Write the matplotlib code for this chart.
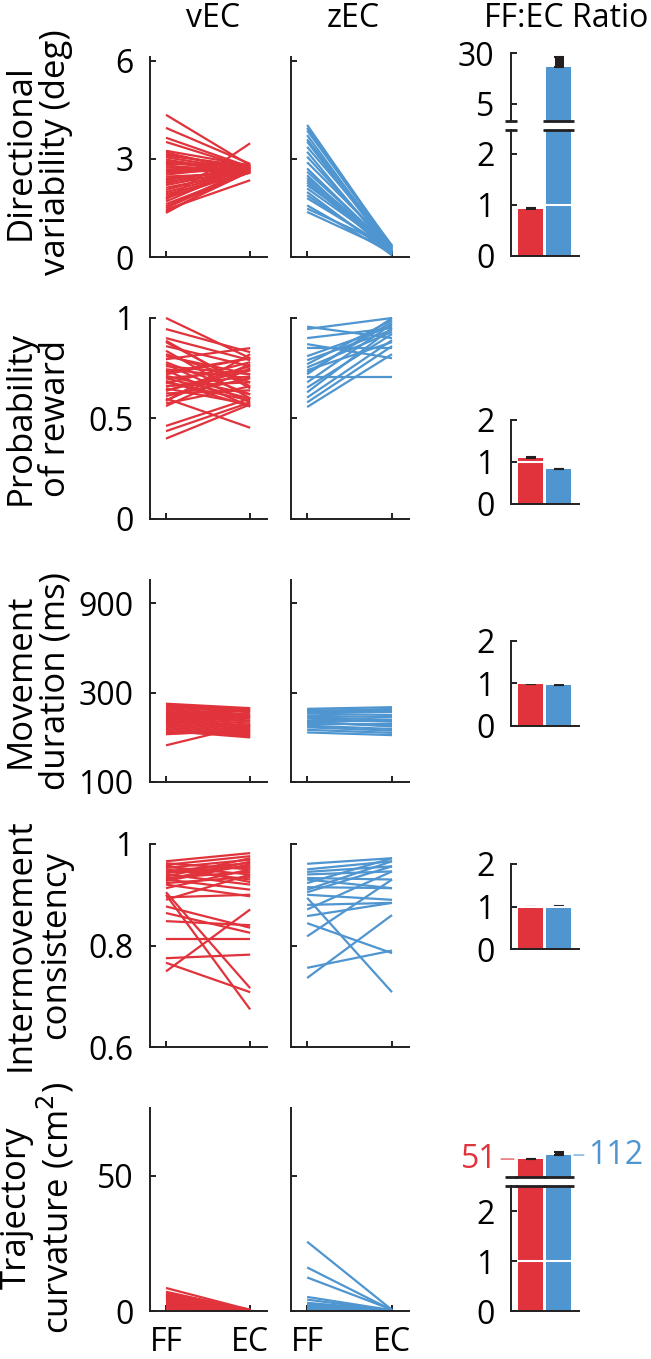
import matplotlib
matplotlib.use("Agg")
import matplotlib.pyplot as plt
from matplotlib.ticker import NullLocator
from matplotlib.transforms import blended_transform_factory

plt.rcParams["font.family"] = ["Open Sans", "DejaVu Sans"]

RED = "#E1333C"
BLUE = "#4F95D0"
INK = "#231F20"

# ------------------------------------------------------------
# Data
# ------------------------------------------------------------
conditions = ["FF", "EC"]
groups = ["vEC", "zEC"]

row_labels = [
    "Directional\nvariability (deg)",
    "Probability\nof reward",
    "Movement\nduration (ms)",
    "Intermovement\nconsistency",
    "Trajectory\ncurvature (cm$^2$)",
]
row_yticks = [[0, 3, 6], [0, 0.5, 1], [100, 300, 900], [0.6, 0.8, 1], [0, 50]]
row_yticklabels = [["0", "3", "6"], ["0", "0.5", "1"], ["100", "300", "900"],
                   ["0.6", "0.8", "1"], ["0", "50"]]
row_ylims = [(0, 6.12), (0, 1.0), (100, 1200), (0.6, 1.0), (0, 75)]
row_log = [False, False, True, False, False]

# directional variability
vec_ff_1 = [4.35, 3.95, 3.65, 3.52, 3.25, 3.2, 3.15, 3.1, 3.05, 2.98, 2.92, 2.85, 2.8, 2.74,
            2.68, 2.62, 2.58, 2.52, 2.46, 2.4, 2.35, 2.3, 2.25, 2.2, 2.12, 2.05, 1.98, 1.92,
            1.85, 1.8, 1.76, 1.7, 1.62, 1.55, 1.5, 1.45, 1.4, 1.35, 2.65, 2.9]
vec_ec_1 = [2.8, 2.85, 2.75, 2.72, 2.8, 2.6, 2.7, 2.78, 2.65, 2.58, 2.72, 2.82, 2.6, 2.68,
            2.75, 2.62, 2.7, 2.8, 2.57, 2.66, 2.73, 2.6, 2.84, 2.7, 2.62, 2.76, 2.68, 2.58,
            2.72, 2.64, 3.48, 2.8, 2.6, 2.7, 2.66, 2.35, 2.62, 2.74, 2.7, 2.6]
zec_ff_1 = [4.04, 3.95, 3.87, 3.73, 3.6, 3.53, 3.37, 3.22, 3.07, 2.9, 2.71, 2.61, 2.5, 2.42,
            2.35, 2.28, 2.2, 2.1, 1.99, 1.89, 1.8, 1.58, 1.48, 1.38]
zec_ec_1 = [0.3, 0.25, 0.35, 0.2, 0.28, 0.15, 0.32, 0.1, 0.22, 0.3, 0.18, 0.25, 0.08, 0.3,
            0.2, 0.12, 0.35, 0.26, 0.05, 0.15, 0.22, 0.1, 0.3, 0.18]

# probability of reward
vec_ff_2 = [1.0, 0.945, 0.90, 0.887, 0.86, 0.837, 0.81, 0.795, 0.77, 0.745, 0.73, 0.712, 0.70,
            0.687, 0.675, 0.662, 0.65, 0.637, 0.625, 0.612, 0.60, 0.587, 0.575, 0.562, 0.463,
            0.437, 0.40, 0.78, 0.76, 0.72, 0.68, 0.82, 0.64, 0.88, 0.59, 0.70, 0.74, 0.66]
vec_ec_2 = [0.80, 0.83, 0.79, 0.65, 0.76, 0.60, 0.72, 0.85, 0.58, 0.70, 0.80, 0.62, 0.74,
            0.56, 0.78, 0.68, 0.57, 0.76, 0.64, 0.70, 0.454, 0.82, 0.66, 0.75, 0.60, 0.58,
            0.57, 0.62, 0.72, 0.80, 0.59, 0.68, 0.74, 0.66, 0.77, 0.60, 0.56, 0.71]
zec_ff_2 = [0.957, 0.945, 0.90, 0.87, 0.853, 0.81, 0.77, 0.754, 0.74, 0.729, 0.704, 0.68,
            0.654, 0.63, 0.604, 0.58, 0.557, 0.72, 0.79]
zec_ec_2 = [0.90, 1.0, 0.95, 0.80, 0.853, 0.96, 0.99, 0.93, 0.88, 0.98, 0.704, 0.97, 0.92,
            0.95, 0.89, 0.86, 0.82, 1.0, 0.94]

# movement duration (ms)
vec_ff_3 = [262, 258, 255, 250, 245, 240, 236, 232, 228, 224, 220, 216, 212, 208, 204, 200,
            196, 192, 188, 185, 182, 180, 157, 230, 215, 205]
vec_ec_3 = [248, 245, 240, 236, 230, 226, 222, 218, 213, 210, 205, 200, 196, 192, 188, 184,
            180, 176, 173, 178, 185, 190, 202, 242, 198, 225]
zec_ff_3 = [246, 242, 236, 232, 226, 222, 218, 213, 208, 204, 200, 196, 190, 184, 238, 210]
zec_ec_3 = [251, 240, 236, 228, 222, 215, 210, 213, 200, 204, 192, 188, 183, 178, 246, 198]

# intermovement consistency
vec_ff_4 = [0.966, 0.962, 0.959, 0.955, 0.953, 0.95, 0.946, 0.943, 0.94, 0.936, 0.933, 0.93,
            0.927, 0.923, 0.92, 0.913, 0.90, 0.89, 0.877, 0.864, 0.848, 0.813, 0.775, 0.766,
            0.749, 0.905, 0.895, 0.93, 0.958, 0.944]
vec_ec_4 = [0.982, 0.95, 0.976, 0.94, 0.969, 0.93, 0.963, 0.956, 0.92, 0.972, 0.945, 0.91,
            0.96, 0.935, 0.897, 0.95, 0.674, 0.94, 0.835, 0.825, 0.84, 0.813, 0.782, 0.708,
            0.871, 0.716, 0.90, 0.965, 0.925, 0.955]
zec_ff_4 = [0.961, 0.95, 0.945, 0.94, 0.933, 0.923, 0.915, 0.91, 0.90, 0.894, 0.88, 0.871,
            0.858, 0.844, 0.818, 0.756, 0.736, 0.905, 0.93]
zec_ec_4 = [0.972, 0.966, 0.956, 0.946, 0.93, 0.972, 0.913, 0.966, 0.89, 0.708, 0.884, 0.946,
            0.884, 0.785, 0.93, 0.79, 0.86, 0.956, 0.913]

# trajectory curvature (cm^2)
vec_ff_5 = [8.5, 7.1, 6.6, 6.2, 5.8, 5.5, 5.2, 4.8, 4.5, 4.2, 3.8, 3.3, 3.0, 2.7, 2.4, 2.1,
            1.6, 1.2, 0.8]
vec_ec_5 = [0.4, 0.3, 0.5, 0.2, 0.35, 0.3, 0.45, 0.25, 0.3, 0.4, 0.2, 0.35, 0.3, 0.25, 0.4,
            0.3, 0.2, 0.35, 0.3]
zec_ff_5 = [25.6, 16.1, 12.4, 5.2, 4.2, 3.0, 2.7, 2.1, 1.5, 1.0, 0.7]
zec_ec_5 = [0.4, 0.3, 0.5, 0.3, 0.2, 0.4, 0.3, 0.2, 0.3, 0.2, 0.3]

vec_ff = [vec_ff_1, vec_ff_2, vec_ff_3, vec_ff_4, vec_ff_5]
vec_ec = [vec_ec_1, vec_ec_2, vec_ec_3, vec_ec_4, vec_ec_5]
zec_ff = [zec_ff_1, zec_ff_2, zec_ff_3, zec_ff_4, zec_ff_5]
zec_ec = [zec_ec_1, zec_ec_2, zec_ec_3, zec_ec_4, zec_ec_5]

# FF:EC ratio bars (mean, upper error)
vec_ratio = [0.92, 1.09, 0.99, 0.99, 51]
vec_ratio_err = [0.03, 0.02, 0.005, 0.005, 3]
zec_ratio = [18.3, 0.83, 0.965, 0.99, 112]
zec_ratio_err = [7.8, 0.01, 0.005, 0.02, 90]

# ------------------------------------------------------------
# Layout (pixel boxes)
# ------------------------------------------------------------
W, H = 651, 1359
fig = plt.figure(figsize=(W / 100, H / 100), dpi=100)

TICK_FS = 23
LABEL_FS = 25
TITLE_FS = 23
LW = 1.4


def px_axes(left, top, right, bottom):
    return fig.add_axes([left / W, 1 - bottom / H, (right - left) / W, (bottom - top) / H])


def clean(ax, left=True, bottom=True):
    for side in ["top", "right"]:
        ax.spines[side].set_visible(False)
    ax.spines["left"].set_visible(left)
    ax.spines["bottom"].set_visible(bottom)
    for side in ["left", "bottom"]:
        ax.spines[side].set_linewidth(LW)
        ax.spines[side].set_color(INK)
    ax.tick_params(direction="in", length=4.3, width=LW, colors=INK, labelcolor="black",
                   labelsize=TICK_FS)
    ax.tick_params(axis="y", pad=12)
    ax.tick_params(axis="x", pad=11)
    ax.patch.set_visible(False)


row_top = [57, 318, 580, 844, 1108]
row_bottom = [257, 519, 782, 1047, 1311]
row_center = [152, 418, 681, 945, 1208]
col_edges = [(150, 267), (291, 409)]

for i in range(5):
    for j, (ff, ec, color) in enumerate([(vec_ff[i], vec_ec[i], RED),
                                         (zec_ff[i], zec_ec[i], BLUE)]):
        left, right = col_edges[j]
        ax = px_axes(left, row_top[i], right, row_bottom[i])
        for a, b in zip(ff, ec):
            ax.plot([0, 1], [a, b], color=color, lw=1.6, solid_capstyle="butt",
                    clip_on=False)
        if row_log[i]:
            ax.set_yscale("log")
        ax.set_ylim(*row_ylims[i])
        ax.set_xlim(-0.19, 1.2)
        ax.set_yticks(row_yticks[i])
        ax.set_yticklabels(row_yticklabels[i])
        ax.yaxis.set_minor_locator(NullLocator())
        ax.set_xticks([0, 1])
        ax.set_xticklabels(conditions)
        clean(ax)
        if j == 1:
            ax.tick_params(labelleft=False)
        if i < 4:
            ax.tick_params(labelbottom=False)

    fig.text(38 / W, 1 - row_center[i] / H, row_labels[i], rotation=90, ha="center",
             va="center", multialignment="center", fontsize=LABEL_FS, linespacing=1.05)

fig.text(213 / W, 1 - 27 / H, groups[0], ha="center", va="baseline", fontsize=TITLE_FS)
fig.text(353 / W, 1 - 27 / H, groups[1], ha="center", va="baseline", fontsize=TITLE_FS)
fig.text(566 / W, 1 - 27 / H, "FF:EC Ratio", ha="center", va="baseline", fontsize=TITLE_FS)

# ------------------------------------------------------------
# Ratio bars
# ------------------------------------------------------------
BAR_W = 0.89
BAR_XLIM = (-0.7, 1.73)
bar_x = [0, 1]
bar_colors = [RED, BLUE]

bar_lower = [(130, 256, 2.47), (420, 504, 2), (641, 726, 2), (864, 949, 2), (1186, 1311, 2.5)]
BAR_L, BAR_R = 511, 579


def draw_bars(ax, values, errors, lo):
    for x, v, e, c in zip(bar_x, values, errors, bar_colors):
        if v <= lo:
            continue
        ax.bar(x, v - lo, bottom=lo, width=BAR_W, color=c, zorder=2)
        ax.errorbar(x, v, yerr=[[0], [e]], fmt="none", ecolor=INK, elinewidth=6.5,
                    capsize=3.25, capthick=1.5, zorder=3, clip_on=False)


def break_marks(ax, values, y_axes, cut):
    trans = blended_transform_factory(ax.transData, ax.transAxes)
    segs = [(BAR_XLIM[0] - 0.21, BAR_XLIM[0] + 0.21)]
    for x, v in zip(bar_x, values):
        if v > cut:
            segs.append((x - BAR_W / 2 - 0.11, x + BAR_W / 2 + 0.11))
    for x0, x1 in segs:
        ax.plot([x0, x1], [y_axes, y_axes], color=INK, lw=2.0, transform=trans,
                clip_on=False, solid_capstyle="butt", zorder=5)


for i in range(5):
    top, bottom, ymax = bar_lower[i]
    ax = px_axes(BAR_L, top, BAR_R, bottom)
    vals = [vec_ratio[i], zec_ratio[i]]
    errs = [vec_ratio_err[i], zec_ratio_err[i]]
    draw_bars(ax, vals, errs, 0)
    ax.hlines(1, bar_x[0] - BAR_W / 2, bar_x[1] + BAR_W / 2, color="white", lw=1.5, zorder=4)
    ax.set_xlim(*BAR_XLIM)
    ax.set_ylim(0, ymax)
    ax.set_yticks([0, 1, 2])
    ax.set_yticklabels(["0", "1", "2"])
    ax.set_xticks([])
    clean(ax)
    if i in (0, 4):
        break_marks(ax, vals, 1, ymax)

# upper part of the broken axis, directional variability (log scale)
ax = px_axes(BAR_L, 53, BAR_R, 121)
vals = [vec_ratio[0], zec_ratio[0]]
draw_bars(ax, vals, [vec_ratio_err[0], zec_ratio_err[0]], 2.75)
ax.set_yscale("log")
ax.set_ylim(2.75, 30)
ax.set_xlim(*BAR_XLIM)
ax.set_yticks([5, 30])
ax.set_yticklabels(["5", "30"])
ax.yaxis.set_minor_locator(NullLocator())
ax.set_xticks([])
clean(ax, bottom=False)
break_marks(ax, vals, 0, 2.47)

# upper part of the broken axis, trajectory curvature (log scale)
ax = px_axes(BAR_L, 1145, BAR_R, 1177)
vals = [vec_ratio[4], zec_ratio[4]]
draw_bars(ax, vals, [vec_ratio_err[4], zec_ratio_err[4]], 1.5)
ax.set_yscale("log")
ax.set_ylim(1.5, 805)
ax.set_xlim(*BAR_XLIM)
ax.set_xticks([])
ax.set_yticks([])
ax.yaxis.set_minor_locator(NullLocator())
clean(ax, left=False, bottom=False)
break_marks(ax, vals, 0, 2.5)

ax.annotate(f"{vals[0]:g}", xy=(bar_x[0] - BAR_W / 2, vals[0]), xytext=(-15, 0),
            textcoords="offset points", ha="right", va="center", color=RED,
            fontsize=TICK_FS,
            arrowprops=dict(arrowstyle="-", color=RED, lw=0.8, shrinkA=0.7, shrinkB=3,
                            relpos=(1, 0.5)))
ax.annotate(f"{vals[1]:g}", xy=(bar_x[1] + BAR_W / 2, vals[1]), xytext=(12, 0),
            textcoords="offset points", ha="left", va="center", color=BLUE,
            fontsize=TICK_FS,
            arrowprops=dict(arrowstyle="-", color=BLUE, lw=0.8, shrinkA=0.7, shrinkB=2,
                            relpos=(0, 0.5)))

fig.savefig("out.png", dpi=100)
